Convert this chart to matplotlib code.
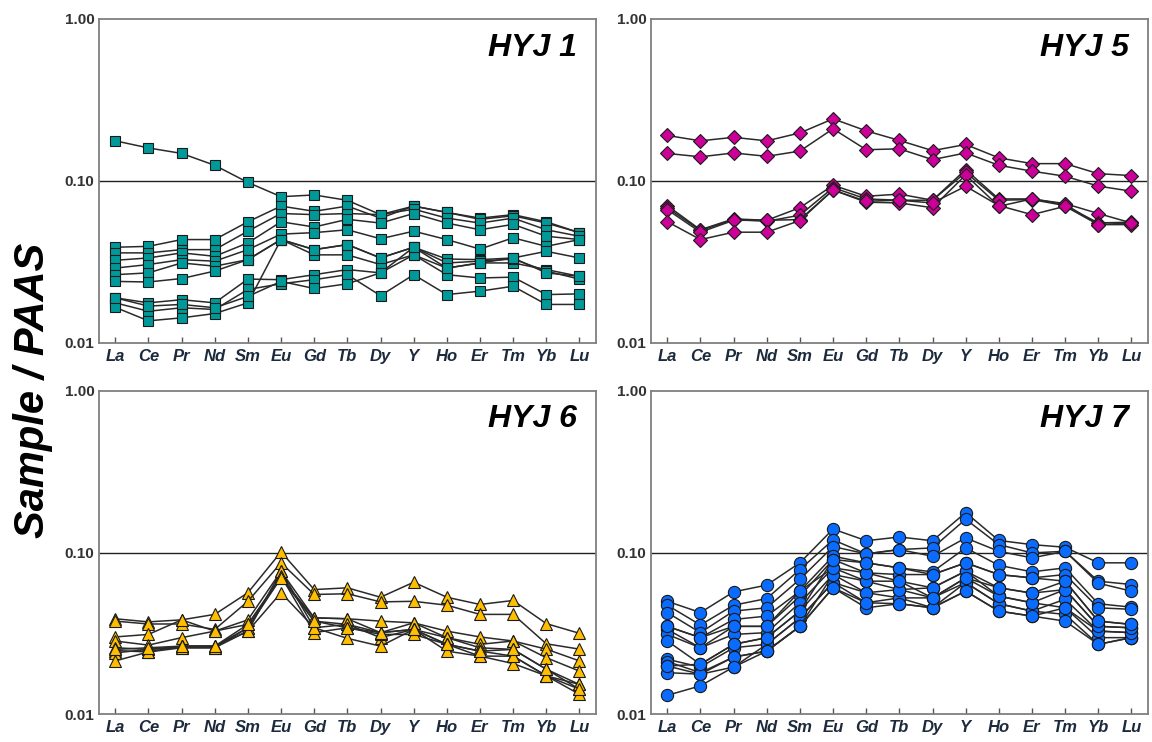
import matplotlib
matplotlib.use("Agg")
import matplotlib.pyplot as plt
from matplotlib.ticker import FixedLocator, NullLocator

plt.rcParams['font.family'] = ['Liberation Sans', 'DejaVu Sans']

elements = ["La", "Ce", "Pr", "Nd", "Sm", "Eu", "Gd", "Tb", "Dy", "Y",
            "Ho", "Er", "Tm", "Yb", "Lu"]
y_ticks = [0.01, 0.10, 1.00]
y_tick_labels = ["0.01", "0.10", "1.00"]
y_label = "Sample / PAAS"

# HYJ 1
hyj1 = [
    [0.177, 0.160, 0.148, 0.125, 0.098, 0.080, 0.082, 0.076, 0.062, 0.070, 0.064, 0.059, 0.062, 0.056, 0.048],
    [0.039, 0.0395, 0.0435, 0.0435, 0.056, 0.070, 0.065, 0.070, 0.059, 0.070, 0.064, 0.058, 0.061, 0.055, 0.048],
    [0.036, 0.036, 0.0377, 0.0377, 0.049, 0.063, 0.062, 0.063, 0.062, 0.067, 0.059, 0.055, 0.059, 0.050, 0.0456],
    [0.0324, 0.0335, 0.036, 0.0343, 0.0415, 0.056, 0.052, 0.058, 0.055, 0.063, 0.055, 0.050, 0.054, 0.0456, 0.0435],
    [0.029, 0.0305, 0.0327, 0.032, 0.0377, 0.047, 0.048, 0.050, 0.044, 0.049, 0.0435, 0.038, 0.0446, 0.0395, 0.0435],
    [0.0264, 0.0271, 0.0312, 0.0298, 0.0327, 0.0435, 0.0377, 0.0405, 0.0335, 0.039, 0.033, 0.0327, 0.0335, 0.0368, 0.0335],
    [0.024, 0.0238, 0.025, 0.0278, 0.0327, 0.0435, 0.035, 0.035, 0.0305, 0.035, 0.029, 0.0312, 0.0312, 0.0284, 0.0258],
    [0.019, 0.0177, 0.0185, 0.0177, 0.0248, 0.0246, 0.0264, 0.0284, 0.0271, 0.035, 0.0264, 0.0252, 0.0255, 0.0199, 0.0201],
    [0.0177, 0.0157, 0.0165, 0.0161, 0.0214, 0.0232, 0.0246, 0.0264, 0.0196, 0.0264, 0.0199, 0.0209, 0.0224, 0.0173, 0.0173],
    [0.0166, 0.0137, 0.0143, 0.0152, 0.0177, 0.0435, 0.0377, 0.0405, 0.0335, 0.039, 0.0312, 0.032, 0.033, 0.0278, 0.0248],
    [0.019, 0.0169, 0.0173, 0.0165, 0.0194, 0.024, 0.0217, 0.0232, 0.0271, 0.039, 0.029, 0.0312, 0.0335, 0.0271, 0.0258],
]

# HYJ 5
hyj5 = [
    [0.191, 0.177, 0.186, 0.177, 0.198, 0.242, 0.204, 0.178, 0.154, 0.168, 0.139, 0.128, 0.128, 0.111, 0.108],
    [0.148, 0.141, 0.149, 0.142, 0.153, 0.210, 0.156, 0.158, 0.1355, 0.149, 0.125, 0.115, 0.107, 0.093, 0.0865],
    [0.0705, 0.050, 0.0584, 0.0572, 0.0684, 0.0942, 0.0805, 0.083, 0.0761, 0.1176, 0.0775, 0.0775, 0.0725, 0.063, 0.0551],
    [0.0684, 0.0495, 0.0578, 0.0564, 0.0615, 0.091, 0.0775, 0.0761, 0.0761, 0.113, 0.0761, 0.0768, 0.0705, 0.0551, 0.0557],
    [0.0666, 0.0483, 0.0572, 0.0572, 0.0578, 0.088, 0.074, 0.0732, 0.0684, 0.109, 0.0698, 0.0775, 0.0718, 0.0538, 0.0538],
    [0.0561, 0.0435, 0.0483, 0.0483, 0.057, 0.088, 0.075, 0.0761, 0.0732, 0.0928, 0.0705, 0.062, 0.0698, 0.0538, 0.0551],
]

# HYJ 6
hyj6 = [
    [0.039, 0.0373, 0.0384, 0.0415, 0.0565, 0.101, 0.0591, 0.0606, 0.053, 0.0656, 0.053, 0.0478, 0.0506, 0.0364, 0.0317],
    [0.0377, 0.0362, 0.0362, 0.0335, 0.050, 0.0865, 0.0551, 0.0557, 0.0496, 0.050, 0.0473, 0.0415, 0.0415, 0.0273, 0.0253],
    [0.0301, 0.0312, 0.0384, 0.0327, 0.0384, 0.0768, 0.0395, 0.039, 0.0377, 0.0368, 0.0327, 0.0301, 0.0284, 0.0253, 0.0214],
    [0.0284, 0.0268, 0.0298, 0.0327, 0.036, 0.0715, 0.0377, 0.036, 0.032, 0.0335, 0.0298, 0.0271, 0.0284, 0.0224, 0.0185],
    [0.0258, 0.0252, 0.0264, 0.0264, 0.0343, 0.0698, 0.0395, 0.039, 0.032, 0.0368, 0.0298, 0.0258, 0.0252, 0.019, 0.0153],
    [0.0248, 0.0243, 0.0264, 0.0264, 0.0327, 0.0768, 0.0343, 0.036, 0.0298, 0.0335, 0.0271, 0.0246, 0.0229, 0.0173, 0.0143],
    [0.024, 0.0252, 0.0258, 0.0258, 0.0343, 0.0715, 0.032, 0.0343, 0.0312, 0.0312, 0.0271, 0.0229, 0.0206, 0.0173, 0.0133],
    [0.0214, 0.0243, 0.0258, 0.0258, 0.0327, 0.0565, 0.0343, 0.0295, 0.0264, 0.0335, 0.0246, 0.0229, 0.0229, 0.0173, 0.0153],
    [0.0252, 0.0258, 0.0264, 0.0264, 0.036, 0.0698, 0.0377, 0.0343, 0.032, 0.0335, 0.0271, 0.0246, 0.0252, 0.019, 0.0143],
]

# HYJ 7
hyj7 = [
    [0.050, 0.0426, 0.0572, 0.063, 0.0865, 0.140, 0.1185, 0.125, 0.1185, 0.177, 0.119, 0.1121, 0.108, 0.0865, 0.0865],
    [0.0473, 0.0357, 0.0473, 0.052, 0.0786, 0.120, 0.0983, 0.1045, 0.107, 0.161, 0.1121, 0.0996, 0.102, 0.0666, 0.0635],
    [0.0426, 0.032, 0.0435, 0.0456, 0.0684, 0.109, 0.0983, 0.1045, 0.095, 0.1233, 0.102, 0.0928, 0.102, 0.0647, 0.0578],
    [0.035, 0.0298, 0.0386, 0.0405, 0.0578, 0.095, 0.0865, 0.0805, 0.0761, 0.107, 0.0835, 0.0761, 0.0805, 0.0483, 0.046],
    [0.0335, 0.0258, 0.035, 0.035, 0.0538, 0.0906, 0.075, 0.0732, 0.0732, 0.0865, 0.0732, 0.0698, 0.0732, 0.0456, 0.0446],
    [0.0312, 0.0258, 0.0312, 0.032, 0.049, 0.0805, 0.0666, 0.0666, 0.0606, 0.0768, 0.0606, 0.0562, 0.0666, 0.0377, 0.036],
    [0.0284, 0.0204, 0.0271, 0.0298, 0.0435, 0.0732, 0.0565, 0.0591, 0.0525, 0.0698, 0.0538, 0.049, 0.0591, 0.035, 0.0343],
    [0.0219, 0.0196, 0.0258, 0.0271, 0.0395, 0.0653, 0.049, 0.0525, 0.0456, 0.0653, 0.0483, 0.0435, 0.0515, 0.0327, 0.032],
    [0.0212, 0.0181, 0.0226, 0.0246, 0.035, 0.0606, 0.0456, 0.0483, 0.0456, 0.0578, 0.0435, 0.0405, 0.0456, 0.0298, 0.0298],
    [0.0199, 0.0177, 0.0196, 0.0271, 0.0395, 0.0653, 0.0565, 0.0525, 0.0525, 0.0653, 0.0483, 0.0435, 0.0415, 0.0271, 0.0298],
    [0.0181, 0.0177, 0.0226, 0.0246, 0.035, 0.0606, 0.049, 0.0483, 0.0456, 0.0578, 0.0435, 0.0405, 0.0377, 0.0271, 0.0298],
    [0.0131, 0.015, 0.0196, 0.0246, 0.035, 0.0732, 0.0666, 0.0591, 0.0606, 0.0768, 0.0538, 0.049, 0.0456, 0.0327, 0.032],
    [0.035, 0.0298, 0.035, 0.035, 0.0578, 0.0805, 0.075, 0.0666, 0.0525, 0.0698, 0.0606, 0.0562, 0.0591, 0.035, 0.0343],
    [0.0199, 0.0204, 0.0271, 0.0298, 0.0435, 0.0906, 0.0865, 0.0805, 0.0732, 0.0865, 0.0732, 0.0698, 0.0666, 0.0377, 0.036],
]

panels = [
    ("HYJ 1", hyj1, "s", "#009999", 7.4),
    ("HYJ 5", hyj5, "D", "#CC0099", 6.8),
    ("HYJ 6", hyj6, "^", "#FFBF00", 8.7),
    ("HYJ 7", hyj7, "o", "#0A6CFF", 8.8),
]

W, H = 1152, 742
fig = plt.figure(figsize=(W / 100, H / 100), dpi=100)

# axes boxes in pixels: (left, top, right, bottom)
boxes = [(98.7, 19, 596, 343), (650.7, 19, 1148, 343),
         (98.7, 391, 596, 714.3), (650.7, 391, 1148, 714.3)]

x = list(range(len(elements)))
for (title, series, mk, col, ms), (l, t, r, b) in zip(panels, boxes):
    ax = fig.add_axes([l / W, 1 - b / H, (r - l) / W, (b - t) / H])
    ax.set_yscale("log")
    ax.set_ylim(0.01, 1.0)
    ax.set_xlim(-0.5, len(elements) - 0.5)
    ax.axhline(0.1, color="#202020", lw=1.0, zorder=1)
    for s in series:
        ax.plot(x, s, color="#2a2a2a", lw=1.1, marker=mk, markersize=ms,
                markerfacecolor=col, markeredgecolor="#1a1a1a",
                markeredgewidth=0.8, zorder=3)
    for sp in ax.spines.values():
        sp.set_color("#7f7f7f")
        sp.set_linewidth(1.3)
    ax.yaxis.set_major_locator(FixedLocator(y_ticks))
    ax.yaxis.set_minor_locator(NullLocator())
    ax.set_yticklabels(y_tick_labels, fontsize=11, fontweight="bold", color="#333333")
    ax.tick_params(axis="y", length=0, pad=3)
    ax.set_xticks(x)
    ax.set_xticklabels(elements, fontsize=12, fontweight="bold", fontstyle="italic",
                       color="#1c2a3c")
    ax.tick_params(axis="x", direction="in", length=4, width=1, color="#555555", pad=4)
    ax.text(0.962, 0.912, title, transform=ax.transAxes, ha="right", va="center",
            fontsize=23, fontweight="bold", fontstyle="italic", color="black")

fig.text(33 / W, 1 - 390 / H, y_label, rotation=90, ha="center", va="center",
         fontsize=30, fontweight="bold", fontstyle="italic", color="black")

fig.savefig("out.png", dpi=100)
